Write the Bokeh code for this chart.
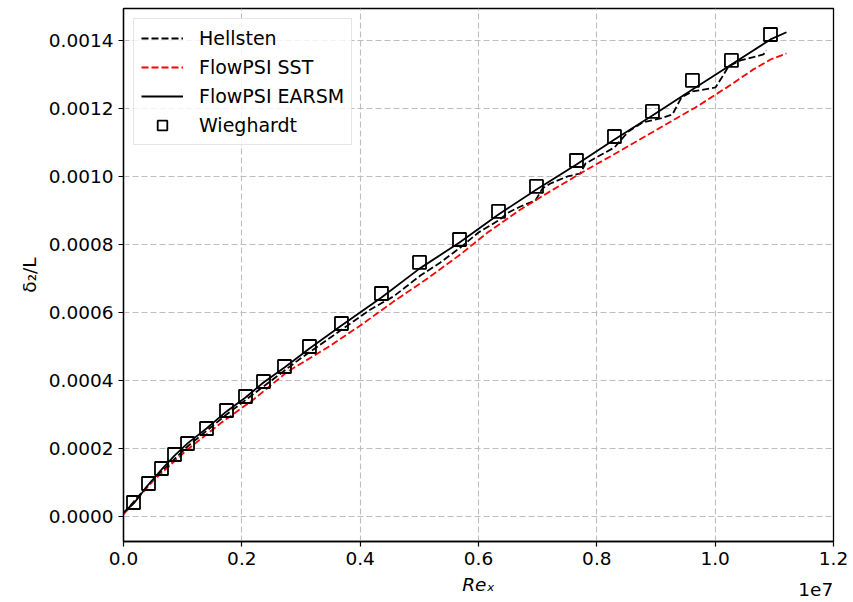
import numpy as np
from bokeh.plotting import figure
from bokeh.models import Range1d, FixedTicker, PrintfTickFormatter, LinearAxis
from bokeh.embed import file_html
from bokeh.resources import INLINE

# Re_x values given in millions (x 1e6)
hellsten_x = [0.000, 0.456, 1.082, 1.741, 2.366, 2.991, 3.667, 4.174, 4.563, 5.019,
              5.357, 5.695, 6.000, 6.338, 6.507, 6.710, 6.963, 7.081, 7.216, 7.504,
              7.723, 7.808, 8.112, 8.298, 8.400, 8.535, 8.771, 9.076, 9.278, 9.430,
              9.616, 10.005, 10.123, 10.225, 10.427, 10.816, 10.867]
hellsten_y = [0.0000088, 0.0001000, 0.0002059, 0.0003000, 0.0003824, 0.0004647, 0.0005471,
              0.0006088, 0.0006471, 0.0007088, 0.0007471, 0.0007912, 0.0008353, 0.0008706,
              0.0008941, 0.0009118, 0.0009294, 0.0009647, 0.0009794, 0.0010000, 0.0010088,
              0.0010382, 0.0010676, 0.0010853, 0.0011059, 0.0011324, 0.0011588, 0.0011706,
              0.0011824, 0.0012324, 0.0012500, 0.0012618, 0.0012941, 0.0013235, 0.0013412,
              0.0013588, 0.0013706]

sst_x = [0.000, 0.507, 1.082, 1.639, 2.197, 2.772, 3.448, 4.005, 4.563, 5.138, 5.696,
         6.152, 6.710, 7.267, 7.842, 8.400, 9.076, 9.667, 10.225, 10.647, 10.935, 11.205]
sst_y = [0.0000059, 0.0001060, 0.0001970, 0.0002740, 0.0003440, 0.0004260, 0.0004970,
         0.0005620, 0.0006320, 0.0007000, 0.0007710, 0.0008350, 0.0009030, 0.0009620,
         0.0010210, 0.0010760, 0.0011440, 0.0012030, 0.0012650, 0.0013150, 0.0013440,
         0.0013620]

earsm_x = [0.000, 0.186, 0.4225, 0.642, 0.862, 1.082, 1.403, 1.741, 2.062, 2.366, 2.721,
           3.143, 3.684, 4.360, 5.003, 5.679, 6.338, 6.980, 7.656, 8.298, 8.940, 9.616,
           10.275, 10.935, 11.205]
earsm_y = [0.0000118, 0.0000412, 0.0000941, 0.0001380, 0.0001790, 0.0002150, 0.0002590,
           0.0003090, 0.0003500, 0.0003940, 0.0004380, 0.0004940, 0.0005620, 0.0006440,
           0.0007290, 0.0008060, 0.0008880, 0.0009620, 0.0010350, 0.0011090, 0.0011790,
           0.0012560, 0.0013290, 0.0014030, 0.0014240]

wieghardt_x = [0.169, 0.4225, 0.642, 0.862, 1.082, 1.403, 1.741, 2.062, 2.366, 2.721,
               3.143, 3.684, 4.360, 5.003, 5.679, 6.338, 6.980, 7.656, 8.298, 8.940,
               9.616, 10.275, 10.935]
wieghardt_y = [0.0000412, 0.0000971, 0.0001412, 0.0001824, 0.0002147, 0.0002588, 0.0003118,
               0.0003529, 0.0003971, 0.0004412, 0.0005000, 0.0005676, 0.0006559, 0.0007471,
               0.0008147, 0.0008971, 0.0009706, 0.0010470, 0.0011176, 0.0011912, 0.0012824,
               0.0013412, 0.0014176]

x_ticks = [0, 2e6, 4e6, 6e6, 8e6, 10e6, 12e6]
x_tick_labels = ["0.0", "0.2", "0.4", "0.6", "0.8", "1.0", "1.2"]
y_ticks = [0.0, 0.0002, 0.0004, 0.0006, 0.0008, 0.0010, 0.0012, 0.0014]
offset_text = "1e7"

SCALE = 1e6
FONT = "DejaVu Sans"
FS = "18.5px"

p = figure(width=853, height=602, output_backend="svg", toolbar_location=None,
           x_range=Range1d(0, 1.2e7), y_range=Range1d(-0.0000735, 0.001494),
           min_border_left=123, min_border_right=20, min_border_top=8, min_border_bottom=61)

p.background_fill_color = "white"
p.border_fill_color = "white"
p.outline_line_color = "black"
p.outline_line_width = 1.3

# grid
for g in (p.xgrid, p.ygrid):
    g.grid_line_color = "#bdbdbd"
    g.grid_line_dash = "6 3"
    g.grid_line_width = 1.1

# axes
p.xaxis.ticker = FixedTicker(ticks=x_ticks)
p.xaxis.major_label_overrides = {t: l for t, l in zip(x_ticks, x_tick_labels)}
p.yaxis.ticker = FixedTicker(ticks=y_ticks)
p.yaxis.formatter = PrintfTickFormatter(format="%.4f")
for ax in (p.xaxis, p.yaxis):
    ax.axis_line_color = "black"
    ax.axis_line_width = 1.3
    ax.major_tick_line_color = "black"
    ax.major_tick_line_width = 1.2
    ax.major_tick_out = 5
    ax.major_tick_in = 0
    ax.minor_tick_line_color = None
    ax.major_label_text_font = FONT
    ax.major_label_text_font_size = FS
    ax.major_label_text_color = "black"
    ax.major_label_standoff = 5
    ax.axis_label_text_font = FONT
    ax.axis_label_text_font_size = FS
    ax.axis_label_text_color = "black"
    ax.axis_label_standoff = 6
p.xaxis.axis_label = "Reₓ"
p.xaxis.axis_label_text_font_style = "italic"
p.yaxis.axis_label = "δ₂/L"
p.yaxis.axis_label_text_font_style = "normal"

# offset text "1e7" drawn as the single tick label of an extra, invisible axis
off_tick = 11.70e6
off_axis = LinearAxis(ticker=FixedTicker(ticks=[off_tick]),
                      major_label_overrides={off_tick: offset_text},
                      axis_line_color=None, major_tick_line_color=None,
                      minor_tick_line_color=None, major_tick_out=0, major_tick_in=0,
                      major_label_standoff=-15, major_label_text_font=FONT,
                      major_label_text_font_size=FS, major_label_text_color="black")
p.add_layout(off_axis, "below")

hx = np.array(hellsten_x) * SCALE
sx = np.array(sst_x) * SCALE
ex = np.array(earsm_x) * SCALE
wx = np.array(wieghardt_x) * SCALE

p.line(hx, hellsten_y, line_color="black", line_width=1.8, line_dash="7 3",
       legend_label="Hellsten")
p.line(sx, sst_y, line_color="red", line_width=1.8, line_dash="7 3",
       legend_label="FlowPSI SST")
p.line(ex, earsm_y, line_color="black", line_width=1.8, legend_label="FlowPSI EARSM")
p.scatter(wx, wieghardt_y, marker="square", size=13, fill_alpha=0, line_color="black",
          line_width=1.8, legend_label="Wieghardt")

lg = p.legend[0]
lg.location = "top_left"
lg.margin = 10
lg.padding = 7
lg.spacing = 5
lg.glyph_width = 42
lg.glyph_height = 24
lg.label_height = 24
lg.label_standoff = 16
lg.label_text_font = FONT
lg.label_text_font_size = "19px"
lg.label_text_color = "black"
lg.border_line_color = "#cccccc"
lg.border_line_width = 1
lg.background_fill_color = "white"
lg.background_fill_alpha = 0.8

open("out.html", "w").write(file_html(p, INLINE))
